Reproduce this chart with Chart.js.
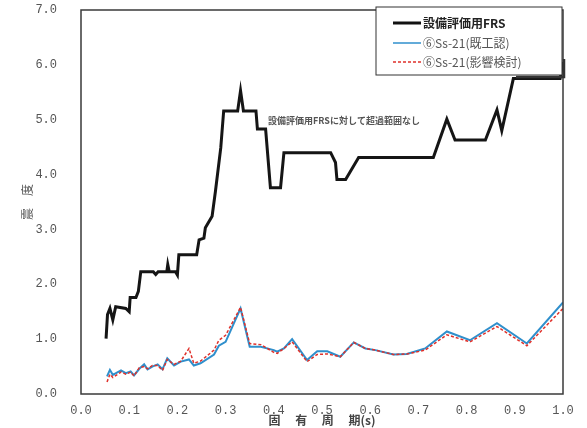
<!DOCTYPE html>
<html lang="ja">
<head>
    <meta charset="UTF-8">
    <title>設備評価用FRS 比較</title>
    <script src="https://cdn.jsdelivr.net/npm/chart.js"></script>
    <style>
        body { margin: 0; background: #fff; }
        .wrap { width: 587px; height: 428px; position: relative; }
    </style>
</head>
<body>
    <div class="wrap"><canvas id="frsChart"></canvas></div>

    <script>
        // 設備評価用FRS(階段状)
        const frsPeriod = [0.052, 0.055, 0.060, 0.066, 0.072, 0.093, 0.100, 0.102, 0.114, 0.119,
            0.124, 0.150, 0.155, 0.160, 0.178, 0.180, 0.183, 0.196, 0.200, 0.203,
            0.240, 0.245, 0.255, 0.258, 0.272, 0.279, 0.290, 0.296, 0.325, 0.331,
            0.337, 0.363, 0.366, 0.383, 0.393, 0.414, 0.421, 0.518, 0.528, 0.531,
            0.549, 0.576, 0.731, 0.759, 0.776, 0.839, 0.863, 0.873, 0.897, 0.994, 1.000];
        const frsAccel = [1.01, 1.45, 1.56, 1.35, 1.59, 1.56, 1.50, 1.76, 1.76, 1.87,
            2.23, 2.23, 2.18, 2.23, 2.23, 2.36, 2.23, 2.23, 2.17, 2.54,
            2.54, 2.81, 2.84, 3.03, 3.24, 3.70, 4.49, 5.16, 5.16, 5.53,
            5.16, 5.16, 4.83, 4.83, 3.76, 3.76, 4.40, 4.40, 4.22, 3.91,
            3.91, 4.31, 4.31, 5.01, 4.63, 4.63, 5.18, 4.80, 5.75, 5.75, 6.05];

        // ⑥Ss-21 の周期
        const ssPeriod = [0.054, 0.060, 0.066, 0.083, 0.093, 0.103, 0.110, 0.121, 0.131, 0.138,
            0.148, 0.159, 0.169, 0.179, 0.193, 0.207, 0.224, 0.234, 0.248, 0.276,
            0.286, 0.300, 0.331, 0.350, 0.373, 0.400, 0.407, 0.421, 0.438, 0.469,
            0.490, 0.511, 0.538, 0.566, 0.590, 0.611, 0.648, 0.676, 0.714, 0.759,
            0.807, 0.863, 0.925, 1.000];
        // ⑥Ss-21(既工認)
        const ssKikoAccel = [0.32, 0.44, 0.35, 0.43, 0.38, 0.41, 0.34, 0.46, 0.54, 0.45,
            0.50, 0.54, 0.45, 0.65, 0.52, 0.59, 0.63, 0.52, 0.56, 0.72,
            0.88, 0.95, 1.56, 0.86, 0.86, 0.80, 0.77, 0.83, 1.00, 0.62,
            0.78, 0.78, 0.68, 0.94, 0.83, 0.80, 0.72, 0.73, 0.83, 1.14,
            0.98, 1.29, 0.92, 1.67];
        // ⑥Ss-21(影響検討)
        const ssEikyoAccel = [0.22, 0.36, 0.30, 0.40, 0.36, 0.40, 0.33, 0.48, 0.50, 0.46,
            0.52, 0.52, 0.43, 0.63, 0.54, 0.60, 0.83, 0.56, 0.60, 0.80,
            0.98, 1.07, 1.58, 0.92, 0.90, 0.76, 0.74, 0.83, 0.95, 0.59,
            0.72, 0.73, 0.68, 0.94, 0.83, 0.80, 0.72, 0.73, 0.80, 1.08,
            0.95, 1.23, 0.88, 1.56];

        const legendLabels = ['設備評価用FRS', '⑥Ss-21(既工認)', '⑥Ss-21(影響検討)'];
        const noteText = '設備評価用FRSに対して超過範囲なし';

        const toPoints = (xs, ys) => xs.map((x, i) => ({ x: x, y: ys[i] }));

        // 枠・凡例・注記
        const decorPlugin = {
            id: 'decor',
            afterDraw(chart) {
                const ctx = chart.ctx;
                const a = chart.chartArea;
                ctx.save();
                ctx.strokeStyle = '#3a3a3a';
                ctx.lineWidth = 1.5;
                ctx.strokeRect(a.left, a.top, a.right - a.left, a.bottom - a.top);

                // 注記
                ctx.fillStyle = '#555';
                ctx.font = 'bold 9px "Noto Sans CJK JP"';
                ctx.textBaseline = 'middle';
                ctx.fillText(noteText, 268, 121);

                // 凡例
                const bx = 376, by = 7, bw = 186, bh = 68;
                ctx.fillStyle = '#fff';
                ctx.fillRect(bx, by, bw, bh);
                ctx.strokeStyle = '#333';
                ctx.lineWidth = 1;
                ctx.strokeRect(bx, by, bw, bh);
                ctx.lineWidth = 2.5;
                ctx.beginPath();
                ctx.moveTo(bx + 140, by + bh + 2);
                ctx.lineTo(bx + bw + 2, by + bh + 2);
                ctx.lineTo(bx + bw + 2, by + bh - 16);
                ctx.stroke();

                const rows = [23, 43, 62];
                const styles = [
                    { c: '#111', w: 3, d: [] },
                    { c: '#2f8fcc', w: 1.5, d: [] },
                    { c: '#e0302a', w: 1.5, d: [3, 2] }
                ];
                rows.forEach((y, i) => {
                    ctx.strokeStyle = styles[i].c;
                    ctx.lineWidth = styles[i].w;
                    ctx.setLineDash(styles[i].d);
                    ctx.beginPath();
                    ctx.moveTo(393, y);
                    ctx.lineTo(421, y);
                    ctx.stroke();
                    ctx.setLineDash([]);
                    ctx.fillStyle = i === 0 ? '#222' : '#555';
                    ctx.font = (i === 0 ? 'bold ' : '') + '12px "Noto Sans CJK JP"';
                    ctx.fillText(legendLabels[i], 423, y);
                });
                ctx.restore();
            }
        };

        const tickFont = { family: '"Liberation Mono", monospace', size: 12 };

        new Chart(document.getElementById('frsChart'), {
            type: 'line',
            data: {
                datasets: [
                    {
                        label: legendLabels[0],
                        data: toPoints(frsPeriod, frsAccel),
                        borderColor: '#151515',
                        borderWidth: 3,
                        order: 0
                    },
                    {
                        label: legendLabels[2],
                        data: toPoints(ssPeriod, ssEikyoAccel),
                        borderColor: '#e0302a',
                        borderWidth: 1.5,
                        borderDash: [3, 2],
                        order: 1
                    },
                    {
                        label: legendLabels[1],
                        data: toPoints(ssPeriod, ssKikoAccel),
                        borderColor: '#2f8fcc',
                        borderWidth: 2,
                        order: 2
                    }
                ]
            },
            options: {
                responsive: true,
                maintainAspectRatio: false,
                animation: false,
                elements: { point: { radius: 0 }, line: { tension: 0 } },
                layout: { padding: { top: 0, right: 24, left: 0, bottom: 0 } },
                scales: {
                    x: {
                        type: 'linear',
                        min: 0,
                        max: 1,
                        grid: { display: false },
                        border: { display: false },
                        ticks: {
                            stepSize: 0.1,
                            padding: 2,
                            color: '#555',
                            font: tickFont,
                            maxRotation: 0,
                            callback: v => v.toFixed(1)
                        },
                        title: {
                            display: true,
                            text: '固　 有　 周　 期(s)',
                            color: '#444',
                            font: { family: '"Noto Sans CJK JP"', size: 12, weight: 'bold' },
                            padding: { top: 0, bottom: 0 }
                        },
                        afterFit: s => { s.height = 34; }
                    },
                    y: {
                        min: 0,
                        max: 7,
                        grid: { display: false },
                        border: { display: false },
                        ticks: {
                            stepSize: 1,
                            padding: 16,
                            color: '#555',
                            font: tickFont,
                            callback: v => v.toFixed(1)
                        },
                        title: {
                            display: true,
                            text: '震　度',
                            color: '#555',
                            font: { family: '"Noto Sans CJK JP"', size: 12 },
                            padding: { top: 20, bottom: 0 }
                        },
                        afterFit: s => {
                            s.width = 81;
                            s.paddingTop = 10;
                            s.paddingBottom = 0;
                        }
                    }
                },
                plugins: {
                    legend: { display: false },
                    tooltip: { enabled: false }
                }
            },
            plugins: [decorPlugin]
        });
    </script>
</body>
</html>
